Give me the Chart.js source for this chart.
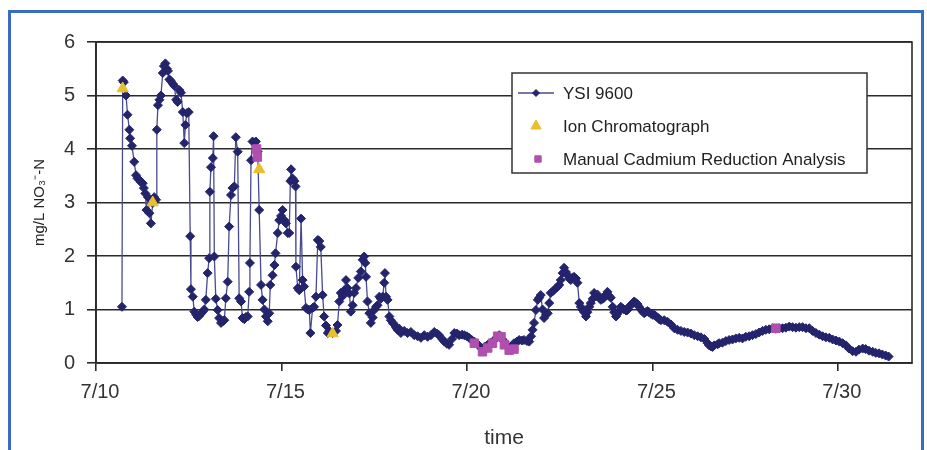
<!DOCTYPE html>
<html><head><meta charset="utf-8">
<script src="https://cdn.jsdelivr.net/npm/chart.js@4.4.1/dist/chart.umd.min.js"></script>
<style>
html,body{margin:0;padding:0;background:#fff;}
#wrap{position:relative;width:927px;height:450px;overflow:hidden;}
#frame{position:absolute;left:8px;top:10px;width:910px;height:470px;border:3px solid #3b6cc4;}
canvas{position:absolute;left:0;top:0;}
</style></head><body>
<div id="wrap"><div id="frame"></div><canvas id="c" width="927" height="450"></canvas></div>
<script>
// ---- data (x = days after 7/10 00:00) ----
const seriesNames = ['YSI 9600', 'Ion Chromatograph', 'Manual Cadmium Reduction Analysis'];
const xTitle = 'time';
const yTitle = 'mg/L NO\u2083\u207B-N';
const tickDays = [0, 5, 10, 15, 20];
const tickLabels = ['7/10', '7/15', '7/20', '7/25', '7/30'];

const ysiDays = [
0.70,0.72,0.75,0.81,0.85,0.90,0.92,0.97,1.03,1.08,1.12,1.17,1.21,1.26,1.29,1.33,1.36,1.40,1.44,1.48,
1.53,1.57,1.62,1.64,1.67,1.71,1.75,1.80,1.83,1.87,1.91,1.94,1.98,2.02,2.07,2.11,2.16,2.20,2.25,2.29,
2.34,2.38,2.41,2.45,2.50,2.54,2.56,2.61,2.65,2.70,2.74,2.78,2.83,2.88,2.92,2.96,3.01,3.05,3.07,3.10,
3.15,3.17,3.19,3.23,3.28,3.32,3.37,3.42,3.46,3.50,3.55,3.59,3.64,3.68,3.73,3.77,3.82,3.86,3.91,3.95,
4.00,4.04,4.09,4.13,4.15,4.18,4.22,4.27,4.31,4.36,4.40,4.45,4.49,4.54,4.58,4.63,4.67,4.70,4.76,4.81,
4.84,4.90,4.94,4.99,5.03,5.08,5.12,5.17,5.21,5.24,5.26,5.30,5.35,5.38,5.39,5.44,5.48,5.53,5.57,5.61,
5.66,5.71,5.75,5.78,5.84,5.88,5.93,5.98,6.02,6.06,6.11,6.15,6.20,6.25,6.29,6.38,6.47,6.51,6.56,6.60,
6.65,6.69,6.74,6.78,6.83,6.87,6.92,6.96,7.01,7.07,7.14,7.19,7.23,7.26,7.28,7.32,7.37,7.41,7.46,7.50,
7.55,7.59,7.64,7.68,7.73,7.77,7.79,7.82,7.86,7.91,7.95,8.00,8.04,8.09,8.13,8.18,8.22,8.31,8.40,8.49,
8.58,8.67,8.76,8.85,8.94,9.03,9.12,9.19,9.25,9.33,9.39,9.46,9.52,9.60,9.66,9.73,9.79,9.87,9.93,10.00,
10.06,10.13,10.20,10.29,10.38,10.47,10.56,10.65,10.74,10.81,10.87,10.94,11.01,11.08,11.14,11.21,11.27,11.35,11.41,11.48,
11.54,11.62,11.68,11.73,11.77,11.81,11.86,11.91,11.95,11.99,12.04,12.08,12.13,12.18,12.22,12.26,12.33,12.40,12.44,12.49,
12.53,12.58,12.62,12.67,12.71,12.76,12.80,12.85,12.89,12.94,12.98,13.03,13.07,13.12,13.16,13.21,13.25,13.30,13.34,13.39,
13.43,13.48,13.52,13.57,13.61,13.66,13.70,13.75,13.79,13.84,13.88,13.93,13.97,14.02,14.06,14.11,14.15,14.20,14.24,14.29,
14.33,14.37,14.42,14.47,14.51,14.56,14.60,14.64,14.69,14.74,14.78,14.82,14.87,14.91,14.96,15.01,15.05,15.09,15.14,15.18,
15.23,15.32,15.41,15.50,15.59,15.68,15.77,15.86,15.95,16.04,16.13,16.22,16.31,16.40,16.49,16.53,16.58,16.62,16.67,16.76,
16.80,16.89,16.98,17.07,17.16,17.25,17.34,17.43,17.52,17.61,17.70,17.79,17.88,17.97,18.06,18.15,18.24,18.33,18.42,18.51,
18.60,18.69,18.78,18.87,18.96,19.05,19.14,19.23,19.32,19.41,19.50,19.59,19.68,19.77,19.86,19.95,20.04,20.13,20.22,20.30,
20.40,20.49,20.57,20.67,20.75,20.84,20.94,21.02,21.11,21.20,21.29,21.37
];
const ysiValues = [
1.05,5.28,5.25,5.00,4.64,4.36,4.20,4.06,3.76,3.51,3.45,3.42,3.38,3.36,3.27,3.17,2.86,3.10,2.80,2.61,
2.99,3.10,3.05,4.36,4.82,4.92,5.00,5.42,5.55,5.60,5.50,5.46,5.30,5.27,5.22,5.18,4.92,4.88,5.10,5.05,
4.69,4.11,4.45,4.67,4.69,2.37,1.38,1.24,0.96,0.90,0.86,0.88,0.92,0.96,1.00,1.18,1.68,1.96,3.20,3.66,
3.83,4.24,1.99,1.20,0.99,0.84,0.75,0.78,0.80,1.21,1.52,2.55,3.14,3.27,3.30,4.22,3.95,1.21,1.15,0.84,
0.82,0.86,0.87,1.33,1.87,3.79,4.14,4.12,4.14,3.95,2.86,1.46,1.18,1.00,0.87,0.78,0.93,1.46,1.64,1.83,
2.05,2.43,2.67,2.75,2.86,2.67,2.61,2.43,2.43,3.40,3.62,3.45,3.40,3.30,1.80,1.40,1.36,2.70,1.55,1.43,
1.03,1.00,0.99,0.56,1.03,1.05,1.24,2.30,2.28,2.17,1.27,0.87,0.70,0.56,0.60,0.56,0.60,0.71,1.15,1.31,
1.25,1.36,1.55,1.40,1.30,0.96,1.08,1.31,1.40,1.59,1.71,1.93,1.99,1.87,1.61,1.15,0.93,0.75,0.85,0.99,
1.05,1.08,1.24,1.20,1.24,1.50,1.68,1.24,1.18,0.87,0.80,0.75,0.72,0.66,0.62,0.64,0.56,0.60,0.56,0.58,
0.52,0.50,0.47,0.52,0.49,0.52,0.58,0.55,0.52,0.45,0.40,0.36,0.34,0.45,0.56,0.55,0.52,0.53,0.52,0.50,
0.47,0.43,0.40,0.35,0.28,0.30,0.34,0.38,0.43,0.48,0.52,0.45,0.40,0.33,0.28,0.32,0.37,0.40,0.43,0.42,
0.43,0.41,0.40,0.50,0.62,0.75,0.99,1.18,1.22,1.27,1.00,0.84,0.90,0.93,1.12,1.31,1.35,1.40,1.42,1.46,
1.55,1.68,1.78,1.70,1.64,1.58,1.55,1.60,1.61,1.58,1.50,1.12,1.05,0.99,0.95,0.87,0.95,1.05,1.12,1.20,
1.31,1.25,1.28,1.22,1.18,1.20,1.22,1.28,1.33,1.25,1.22,1.05,0.95,0.87,0.92,0.98,1.05,1.02,1.00,0.98,
0.99,1.05,1.08,1.12,1.15,1.12,1.10,1.05,1.00,0.96,0.93,0.95,0.97,0.95,0.92,0.90,0.90,0.88,0.85,0.82,
0.80,0.80,0.77,0.72,0.65,0.62,0.60,0.58,0.57,0.55,0.52,0.50,0.48,0.45,0.37,0.33,0.31,0.30,0.33,0.35,
0.37,0.38,0.41,0.43,0.44,0.46,0.47,0.46,0.49,0.50,0.52,0.54,0.57,0.60,0.62,0.63,0.65,0.64,0.65,0.65,
0.66,0.68,0.67,0.66,0.67,0.67,0.65,0.65,0.60,0.56,0.53,0.50,0.48,0.47,0.44,0.42,0.40,0.37,0.33,0.27,
0.22,0.21,0.25,0.27,0.26,0.23,0.21,0.19,0.18,0.16,0.14,0.12
];
const icDays = [0.72, 1.53, 4.40, 6.38];
const icValues = [5.13, 3.00, 3.62, 0.55];
const cdDays = [4.33, 4.35, 10.20, 10.42, 10.56, 10.69, 10.83, 10.92, 11.01, 11.14, 11.27, 18.33];
const cdValues = [4.00, 3.85, 0.37, 0.21, 0.28, 0.37, 0.50, 0.49, 0.34, 0.24, 0.26, 0.65];

// ---- chart ----
const F = '"Liberation Sans", Arial, sans-serif';
const pts = (xs, ys) => xs.map((x, i) => ({x: x, y: ys[i]}));
const legendRadius = [3.5, 6, 4.5];

const plotBorder = {
  id: 'plotBorder',
  beforeDatasetsDraw(chart) {
    const a = chart.chartArea, c = chart.ctx;
    c.save(); c.strokeStyle = '#2a2a2a'; c.lineWidth = 1.6;
    c.strokeRect(a.left, a.top, a.right - a.left, a.bottom - a.top);
    c.restore();
  }
};
const legendBox = {
  id: 'legendBox',
  afterDatasetsDraw(chart) {
    const c = chart.ctx, ds = chart.data.datasets;
    const L = 512, T = 73, R = 867, B = 173;
    const rows = [93, 126, 159];
    c.save();
    c.fillStyle = '#fff'; c.fillRect(L, T, R - L, B - T);
    c.strokeStyle = '#333'; c.lineWidth = 1.5; c.strokeRect(L, T, R - L, B - T);
    c.font = '17px ' + F; c.textBaseline = 'middle'; c.textAlign = 'left';
    ds.forEach((d, i) => {
      const y = rows[i], sx = 536;
      if (d.showLine !== false) {
        c.strokeStyle = d.borderColor; c.lineWidth = 1.5;
        c.beginPath(); c.moveTo(518, y); c.lineTo(554, y); c.stroke();
      }
      c.fillStyle = d.pointBackgroundColor; c.strokeStyle = d.pointBorderColor; c.lineWidth = 1;
      Chart.helpers.drawPoint(c, {pointStyle: d.pointStyle, radius: legendRadius[i], rotation: 0, borderWidth: 1}, i === 2 ? sx + 2 : sx, y);
      c.fillStyle = '#222';
      c.fillText(d.label, 563, y + 1);
    });
    c.restore();
  }
};

new Chart(document.getElementById('c'), {
  type: 'line',
  data: {
    datasets: [
      {label: seriesNames[0], data: pts(ysiDays, ysiValues), order: 2,
       borderColor: '#4a4a92', borderWidth: 1.3, showLine: true,
       pointStyle: 'rectRot', pointRadius: 4.5, pointBackgroundColor: '#24246c', pointBorderColor: '#24246c', pointBorderWidth: 1},
      {label: seriesNames[1], data: pts(icDays, icValues), order: 1, showLine: false,
       borderColor: '#e6bd2a', pointStyle: 'triangle', pointRadius: 6.5,
       pointBackgroundColor: '#e9c02b', pointBorderColor: '#e9c02b', pointBorderWidth: 1},
      {label: seriesNames[2], data: pts(cdDays, cdValues), order: 0, showLine: false,
       borderColor: '#b04fae', pointStyle: 'rect', pointRadius: 6,
       pointBackgroundColor: '#b04fae', pointBorderColor: '#b04fae', pointBorderWidth: 1}
    ]
  },
  options: {
    responsive: false, animation: false, devicePixelRatio: 1,
    layout: {padding: {left: 0, right: 15, top: 42, bottom: 0}},
    plugins: {legend: {display: false}, tooltip: {enabled: false}},
    scales: {
      x: {
        type: 'linear', min: 0, max: 22,
        afterBuildTicks: s => { s.ticks = tickDays.map(v => ({value: v})); },
        afterFit: s => { s.height = 87; },
        ticks: {callback: v => tickLabels[tickDays.indexOf(v)], color: '#333', font: {family: F, size: 20},
                padding: 9, maxRotation: 0, autoSkip: false, labelOffset: 4},
        grid: {drawOnChartArea: false, drawTicks: true, tickLength: 8, color: '#2a2a2a', lineWidth: 1.6},
        border: {display: true, color: '#2a2a2a', width: 1.6},
        title: {display: true, text: xTitle, color: '#333', font: {family: F, size: 21, lineHeight: 1}, padding: {top: 0, bottom: 1}}
      },
      y: {
        min: 0, max: 6,
        afterBuildTicks: s => { s.ticks = [0,1,2,3,4,5,6].map(v => ({value: v})); },
        afterFit: s => { s.width = 96; },
        ticks: {color: '#333', font: {family: F, size: 20}, padding: 12},
        grid: {color: '#2a2a2a', lineWidth: 1.6, tickLength: 9},
        border: {display: true, color: '#2a2a2a', width: 1.8},
        title: {display: true, text: yTitle, color: '#222', font: {family: F, size: 15}, padding: {top: 31, bottom: 0}}
      }
    }
  },
  plugins: [plotBorder, legendBox]
});
</script>
</body></html>
